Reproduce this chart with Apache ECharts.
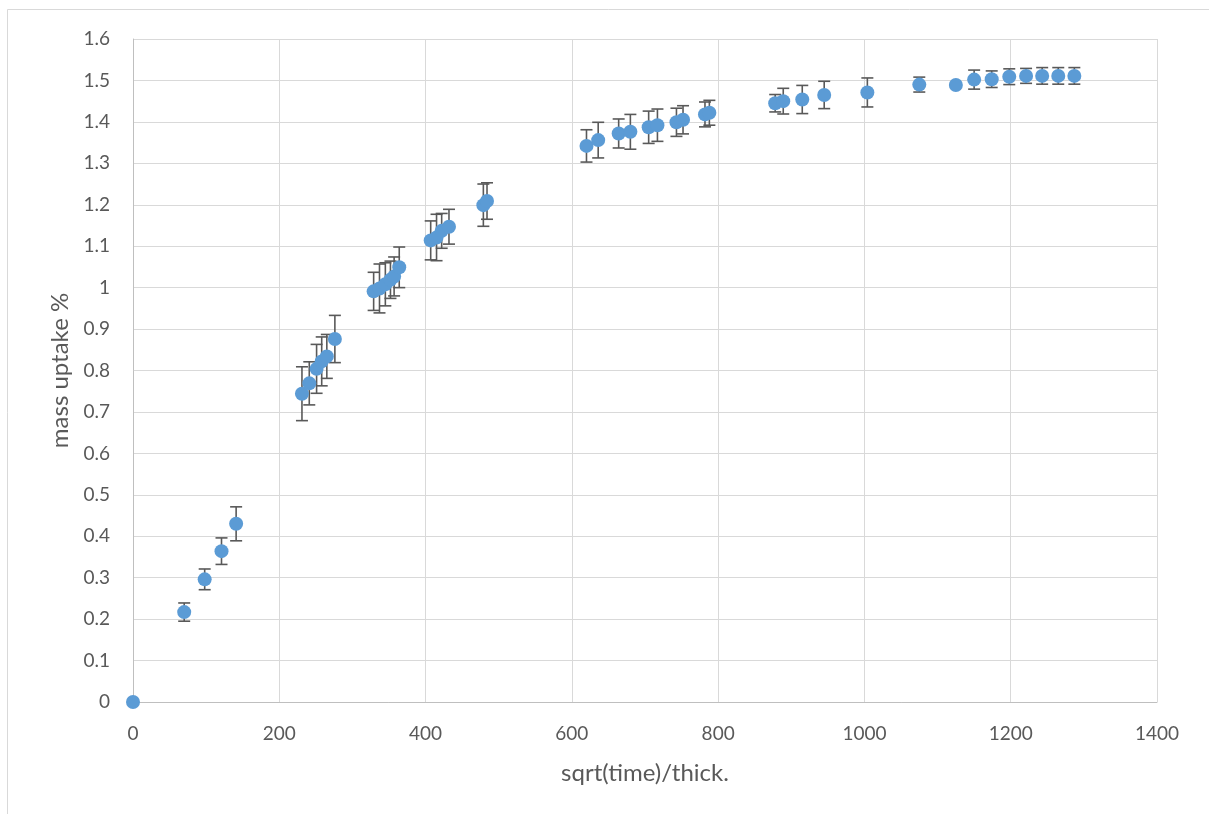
<!DOCTYPE html>
<html>
<head>
<meta charset="utf-8">
<title>Mass uptake vs sqrt(time)/thickness</title>
<script src="https://cdn.jsdelivr.net/npm/echarts@6/dist/echarts.min.js"></script>
<style>
  html, body { margin: 0; padding: 0; background: #ffffff; }
  #chart { width: 1209px; height: 814px; }
</style>
</head>
<body>
<div id="chart"></div>
<script>
// Measured samples: x = sqrt(time)/thickness, y = mass uptake (%), err = ± error
const xVals = [0, 70, 98, 121, 141, 231, 241, 251, 258, 265, 276, 329, 337, 345, 352, 357, 364,
  407, 415, 422, 432, 479, 484, 620, 636, 664, 680, 705, 717, 743, 752, 782, 788,
  878, 889, 915, 945, 1004, 1075, 1125, 1150, 1174, 1198, 1221, 1243, 1265, 1287];
const yVals = [0, 0.217, 0.296, 0.364, 0.430, 0.744, 0.769, 0.804, 0.822, 0.834, 0.876, 0.991, 0.998, 1.008, 1.019, 1.027, 1.049,
  1.114, 1.121, 1.137, 1.147, 1.199, 1.209, 1.342, 1.356, 1.372, 1.376, 1.387, 1.392, 1.399, 1.405, 1.418, 1.422,
  1.445, 1.450, 1.454, 1.465, 1.471, 1.490, 1.489, 1.502, 1.503, 1.509, 1.511, 1.511, 1.511, 1.511];
const errVals = [0, 0.022, 0.025, 0.032, 0.041, 0.065, 0.052, 0.059, 0.059, 0.053, 0.057, 0.046, 0.059, 0.052, 0.045, 0.047, 0.049,
  0.047, 0.056, 0.042, 0.042, 0.051, 0.044, 0.039, 0.043, 0.035, 0.042, 0.039, 0.039, 0.034, 0.034, 0.030, 0.030,
  0.021, 0.031, 0.034, 0.033, 0.035, 0.018, 0.004, 0.023, 0.020, 0.019, 0.018, 0.020, 0.020, 0.020];

const xTitle = 'sqrt(time)/thick.';
const yTitle = 'mass uptake %';

const points = xVals.map((x, i) => [x, yVals[i]]);
const errData = xVals.map((x, i) => [x, yVals[i] - errVals[i], yVals[i] + errVals[i]]);

const FONT = 'Lato, "Open Sans", "Liberation Sans", sans-serif';
const TEXT = '#595959';
const GRID_LINE = '#d9d9d9';

const chart = echarts.init(document.getElementById('chart'), null, { renderer: 'canvas' });

chart.setOption({
  backgroundColor: '#ffffff',
  animation: false,
  graphic: [{
    type: 'rect',
    shape: { x: 7.5, y: 9.5, width: 1215, height: 815 },
    style: { fill: 'none', stroke: '#d9d9d9', lineWidth: 1 },
    silent: true,
    z: -10
  }],
  grid: { left: 133, top: 39, width: 1024, height: 663, containLabel: false },
  xAxis: {
    type: 'value',
    min: 0, max: 1400, interval: 200,
    name: xTitle,
    nameLocation: 'middle',
    nameGap: 59,
    nameTextStyle: { color: TEXT, fontSize: 24, fontFamily: FONT },
    axisLine: { show: true, lineStyle: { color: '#bfbfbf', width: 1 } },
    axisTick: { show: false },
    axisLabel: { color: TEXT, fontSize: 19, fontFamily: FONT, margin: 22, formatter: v => String(v) },
    splitLine: { show: true, lineStyle: { color: GRID_LINE, width: 1 } }
  },
  yAxis: {
    type: 'value',
    min: 0, max: 1.6, interval: 0.1,
    name: yTitle,
    nameLocation: 'middle',
    nameGap: 61,
    nameRotate: 90,
    nameTextStyle: { color: TEXT, fontSize: 24, fontFamily: FONT },
    axisLine: { show: true, lineStyle: { color: '#bfbfbf', width: 1 } },
    axisTick: { show: false },
    axisLabel: {
      color: TEXT, fontSize: 19, fontFamily: FONT, margin: 23,
      formatter: v => String(+v.toFixed(1))
    },
    splitLine: { show: true, lineStyle: { color: GRID_LINE, width: 1 } }
  },
  series: [
    {
      // vertical error bars with caps, drawn beneath the markers
      type: 'custom',
      z: 2,
      data: errData,
      encode: { x: 0, y: [1, 2] },
      renderItem: function (params, api) {
        const x = api.value(0);
        const lo = api.coord([x, api.value(1)]);
        const hi = api.coord([x, api.value(2)]);
        const cap = 6;
        const style = { stroke: '#595959', lineWidth: 1.6, fill: null };
        return {
          type: 'group',
          children: [
            { type: 'line', shape: { x1: lo[0], y1: lo[1], x2: hi[0], y2: hi[1] }, style },
            { type: 'line', shape: { x1: lo[0] - cap, y1: lo[1], x2: lo[0] + cap, y2: lo[1] }, style },
            { type: 'line', shape: { x1: hi[0] - cap, y1: hi[1], x2: hi[0] + cap, y2: hi[1] }, style }
          ]
        };
      }
    },
    {
      type: 'scatter',
      z: 5,
      data: points,
      symbol: 'circle',
      symbolSize: 14,
      itemStyle: { color: '#5b9bd5', opacity: 1 }
    }
  ]
});
</script>
</body>
</html>
